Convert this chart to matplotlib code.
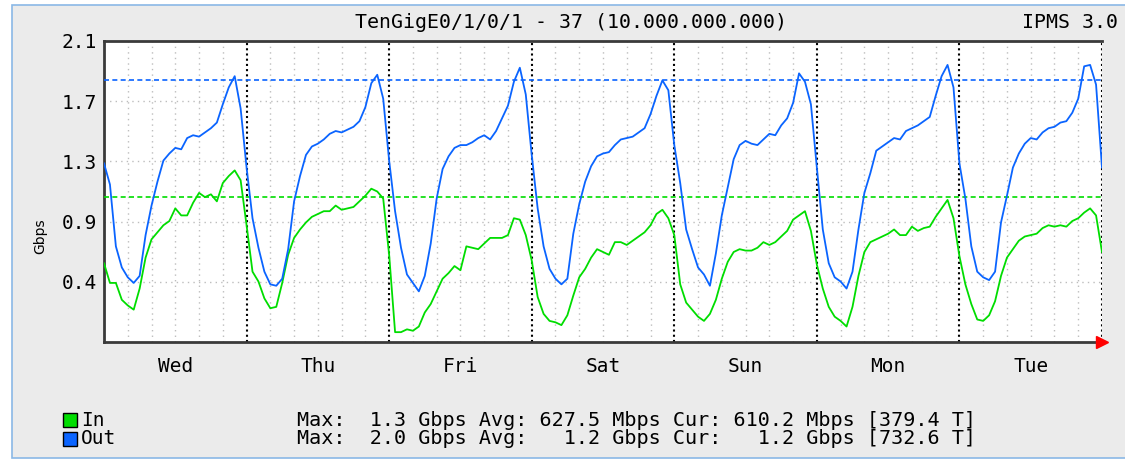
import numpy as np
import matplotlib.pyplot as plt
from matplotlib.patches import Rectangle

# hourly samples, Wed 00:00 -> next Wed 00:00 (Gbps)
days = ["Wed", "Thu", "Fri", "Sat", "Sun", "Mon", "Tue"]
hours = np.arange(169)

out_gbps = [
    1.27, 1.12, 0.68, 0.53, 0.46, 0.42, 0.47, 0.76, 0.97, 1.14, 1.29, 1.34,
    1.38, 1.37, 1.45, 1.47, 1.46, 1.49, 1.52, 1.56, 1.69, 1.81, 1.89, 1.66,
    1.24, 0.88, 0.67, 0.50, 0.41, 0.40, 0.45, 0.66, 1.00, 1.18, 1.33, 1.39,
    1.41, 1.44, 1.48, 1.50, 1.49, 1.51, 1.53, 1.57, 1.67, 1.84, 1.90, 1.73,
    1.29, 0.93, 0.67, 0.48, 0.42, 0.36, 0.47, 0.70, 1.02, 1.23, 1.32, 1.38,
    1.40, 1.40, 1.42, 1.45, 1.47, 1.44, 1.50, 1.59, 1.68, 1.85, 1.95, 1.76,
    1.33, 0.95, 0.68, 0.52, 0.45, 0.41, 0.45, 0.77, 0.98, 1.14, 1.25, 1.32,
    1.34, 1.35, 1.40, 1.44, 1.45, 1.46, 1.49, 1.52, 1.62, 1.75, 1.86, 1.79,
    1.40, 1.13, 0.80, 0.66, 0.53, 0.48, 0.40, 0.63, 0.90, 1.10, 1.30, 1.40,
    1.43, 1.41, 1.40, 1.44, 1.48, 1.47, 1.54, 1.59, 1.70, 1.91, 1.85, 1.69,
    1.24, 0.80, 0.56, 0.46, 0.43, 0.38, 0.50, 0.80, 1.06, 1.20, 1.36, 1.39,
    1.42, 1.45, 1.44, 1.50, 1.52, 1.54, 1.57, 1.60, 1.75, 1.89, 1.97, 1.81,
    1.27, 1.02, 0.68, 0.50, 0.46, 0.44, 0.50, 0.85, 1.04, 1.24, 1.34, 1.41,
    1.45, 1.44, 1.49, 1.52, 1.53, 1.56, 1.57, 1.63, 1.73, 1.96, 1.97, 1.83,
    1.24,
]
in_gbps = [
    0.56, 0.42, 0.42, 0.30, 0.26, 0.23, 0.38, 0.60, 0.73, 0.78, 0.83, 0.86,
    0.95, 0.90, 0.90, 0.99, 1.06, 1.03, 1.05, 1.00, 1.13, 1.18, 1.22, 1.15,
    0.83, 0.50, 0.43, 0.31, 0.24, 0.25, 0.42, 0.62, 0.74, 0.80, 0.85, 0.89,
    0.91, 0.93, 0.93, 0.97, 0.94, 0.95, 0.96, 1.00, 1.04, 1.09, 1.07, 1.02,
    0.62, 0.07, 0.07, 0.09, 0.08, 0.11, 0.21, 0.27, 0.36, 0.45, 0.49, 0.54,
    0.51, 0.68, 0.67, 0.66, 0.70, 0.74, 0.74, 0.74, 0.76, 0.88, 0.87, 0.76,
    0.58, 0.32, 0.20, 0.15, 0.14, 0.12, 0.19, 0.33, 0.46, 0.52, 0.60, 0.66,
    0.64, 0.62, 0.71, 0.71, 0.69, 0.72, 0.75, 0.78, 0.83, 0.91, 0.94, 0.88,
    0.76, 0.41, 0.28, 0.23, 0.18, 0.15, 0.20, 0.30, 0.45, 0.57, 0.64, 0.66,
    0.65, 0.65, 0.67, 0.71, 0.69, 0.71, 0.75, 0.79, 0.87, 0.90, 0.93, 0.79,
    0.55, 0.38, 0.25, 0.18, 0.15, 0.11, 0.25, 0.47, 0.64, 0.71, 0.73, 0.75,
    0.77, 0.80, 0.76, 0.76, 0.82, 0.79, 0.81, 0.82, 0.89, 0.95, 1.01, 0.88,
    0.61, 0.41, 0.27, 0.16, 0.15, 0.19, 0.29, 0.47, 0.60, 0.66, 0.72, 0.75,
    0.76, 0.77, 0.81, 0.83, 0.82, 0.83, 0.82, 0.86, 0.88, 0.92, 0.95, 0.90,
    0.64,
]

y_top = 2.14
y_ticks = [0.428, 0.856, 1.284, 1.712, 2.14]
y_labels = ["0.4", "0.9", "1.3", "1.7", "2.1"]
out_p95 = 1.863
in_p95 = 1.031

title = "TenGigE0/1/0/1 - 37 (10.000.000.000)"
brand = "IPMS 3.0"
stats_in = "Max:  1.3 Gbps Avg: 627.5 Mbps Cur: 610.2 Mbps [379.4 T]"
stats_out = "Max:  2.0 Gbps Avg:   1.2 Gbps Cur:   1.2 Gbps [732.6 T]"

GREEN = "#00dd00"
BLUE = "#0a64ff"
W, H = 1125, 459
MONO = "DejaVu Sans Mono"


def fx(px):
    return px / W


def fy(py):
    return 1 - py / H


fig = plt.figure(figsize=(W / 100, H / 100), dpi=100, facecolor="white")
fig.patches.append(Rectangle((fx(12), fy(458)), fx(1140) - fx(12), fy(5) - fy(458),
                             transform=fig.transFigure, facecolor="#ebebeb",
                             edgecolor="#8ab8e6", linewidth=1.2, zorder=-5))

ax = fig.add_axes([fx(104), fy(342), fx(1102) - fx(104), fy(41) - fy(342)])
ax.set_zorder(2)
ax.set_facecolor("white")
ax.set_xlim(0, 168)
ax.set_ylim(0, y_top)

# light grid: every 4 hours and at each y tick
for h in range(4, 168, 4):
    if h % 24:
        ax.axvline(h, color="#bdbdbd", lw=1, ls=(0, (1, 3)), zorder=1)
for v in y_ticks[:-1]:
    ax.axhline(v, color="#bdbdbd", lw=1, ls=(0, (1, 3)), zorder=1)
# day boundaries
for h in range(24, 169, 24):
    ax.axvline(h, color="black", lw=1.5, ls=(0, (1, 1.5)), zorder=2)

ax.axhline(out_p95, color=BLUE, lw=1.2, ls=(0, (3, 2)), zorder=3)
ax.axhline(in_p95, color=GREEN, lw=1.2, ls=(0, (3, 2)), zorder=3)

ax.plot(hours, in_gbps, color=GREEN, lw=1.3, zorder=4)
ax.plot(hours, out_gbps, color=BLUE, lw=1.3, zorder=5)
ax.plot([hours[-1]], [0], marker=">", color="red", ms=9, clip_on=False, zorder=6)

for s in ["left", "bottom", "top"]:
    ax.spines[s].set_color("#3a3a3a")
    ax.spines[s].set_linewidth(2)
ax.spines["right"].set_visible(False)

ax.set_yticks(y_ticks)
ax.set_yticklabels(y_labels, fontfamily=MONO, fontsize=14)
ax.set_xticks(np.arange(12, 168, 24))
ax.set_xticklabels(days, fontfamily=MONO, fontsize=14)
ax.tick_params(axis="y", length=0, pad=5)
ax.tick_params(axis="x", length=0, pad=11)

fig.text(fx(40), fy(236), "Gbps", rotation=90, ha="center", va="center",
         fontsize=10, family="DejaVu Sans")
fig.text(fx(571), fy(22), title, ha="center", va="center", fontsize=14.3, family=MONO)
fig.text(fx(1118), fy(22), brand, ha="right", va="center", fontsize=14.3, family=MONO)

# legend
for py, col, name, stats in [(420, GREEN, "In", stats_in), (439, BLUE, "Out", stats_out)]:
    fig.patches.append(Rectangle((fx(63), fy(py + 7)), fx(14), 14 / H,
                                 transform=fig.transFigure, facecolor=col,
                                 edgecolor="black", linewidth=1))
    fig.text(fx(81), fy(py), name, ha="left", va="center", fontsize=14, family=MONO)
    fig.text(fx(297), fy(py), stats, ha="left", va="center", fontsize=14.5, family=MONO)

fig.savefig("out.png", dpi=100, facecolor="white")
